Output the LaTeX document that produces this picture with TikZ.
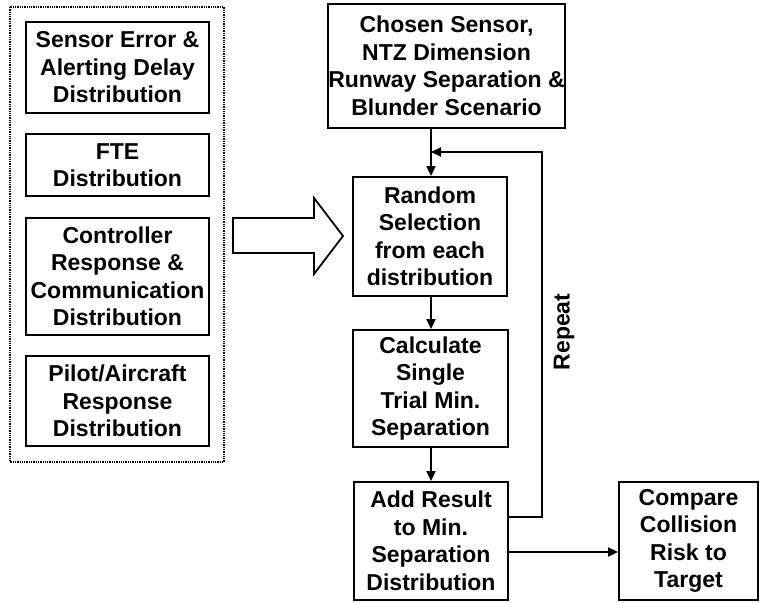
\documentclass[tikz,border=0pt]{standalone}
\usepackage{fontspec}
\setmainfont{Liberation Sans}
\usetikzlibrary{arrows.meta}
\begin{document}
\begin{tikzpicture}[x=1pt,y=-1pt,
  box/.style={draw,line width=1.8pt,align=center,inner sep=0pt,
    font=\bfseries\fontsize{23}{27.5}\selectfont},
  arr/.style={line width=1.8pt,-{Triangle[length=10pt,width=9pt]}},
  conn/.style={line width=1.8pt}]
\useasboundingbox (0,0) rectangle (762,602);
% left group
\draw[line width=1.3pt,densely dotted] (10,7) rectangle (224,462);
\node[box,minimum width=183pt,minimum height=91pt] (b1) at (117.5,67.5) {Sensor Error \&\\Alerting Delay\\Distribution};
\node[box,minimum width=183pt,minimum height=62pt] (b2) at (117.5,165) {FTE\\Distribution};
\node[box,minimum width=183pt,minimum height=117pt] (b3) at (117.5,276.5) {Controller\\Response \&\\Communication\\Distribution};
\node[box,minimum width=183pt,minimum height=90pt] (b4) at (117.5,401) {Pilot/Aircraft\\Response\\Distribution};
% big arrow
\draw[line width=1.8pt,line join=miter] (233,218) -- (314,218) -- (314,198) -- (343,236) -- (314,274) -- (314,253) -- (233,253) -- cycle;
% right column
\node[box,minimum width=231pt,minimum height=124pt] (top) at (446.5,66) {Chosen Sensor,\\NTZ Dimension\\Runway Separation \&\\Blunder Scenario};
\node[box,minimum width=154pt,minimum height=119pt] (rnd) at (430,236.5) {Random\\Selection\\from each\\distribution};
\node[box,minimum width=155pt,minimum height=117pt] (calc) at (430.5,388.5) {Calculate\\Single\\Trial Min.\\Separation};
\node[box,minimum width=154pt,minimum height=118pt] (add) at (431,541) {Add Result\\to Min.\\Separation\\Distribution};
\node[box,minimum width=139pt,minimum height=118pt] (cmp) at (688.5,541) {Compare\\Collision\\Risk to\\Target};
\coordinate (j) at (431,152);
\coordinate (r1) at (542,517);
\coordinate (r2) at (542,152);
\draw[arr] (top.south -| j) -- (j |- rnd.north);
\draw[arr] (rnd.south -| j) -- (j |- calc.north);
\draw[arr] (calc.south -| j) -- (j |- add.north);
\draw[conn] (add.east |- r1) -- (r1) -- (r2) -- ([xshift=-0.9pt]r2);
\draw[arr] (r2) -- (j);
\draw[arr] ([yshift=-11pt]add.east) -- ([yshift=-11pt]add.east -| cmp.west);
\node[rotate=90,font=\bfseries\fontsize{23}{27.5}\selectfont] (rep) at (564,332) {Repeat};
\end{tikzpicture}
\end{document}
